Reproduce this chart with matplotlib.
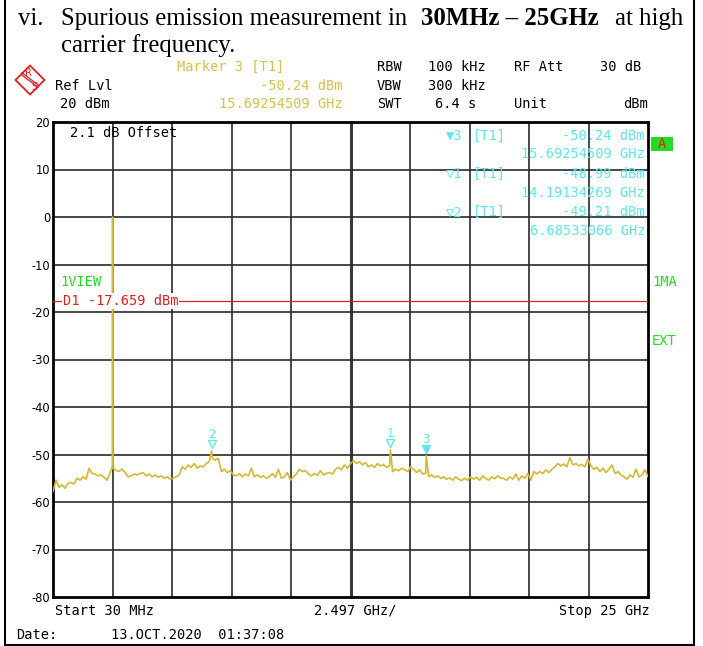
import numpy as np
import matplotlib.pyplot as plt
from matplotlib import transforms
from matplotlib.patches import Polygon, Rectangle
from matplotlib.lines import Line2D

W, H = 703, 646

# sweep settings
start_ghz = 0.03
stop_ghz = 25.0
div_ghz = 2.497
ref_lvl = 20
y_ticks = [20, 10, 0, -10, -20, -30, -40, -50, -60, -70, -80]

# noise floor of the trace (dBm), evenly spaced over the sweep
noise_dbm = [
    -57.8, -55.4, -56.9, -56.4, -57.1, -56.1, -55.9, -56.2, -55.0, -55.4,
    -54.7, -55.2, -52.9, -54.0, -54.1, -54.5, -54.3, -54.8, -55.4, -53.8,
    -52.9, -53.4, -53.5, -53.1, -53.8, -54.7, -54.5, -54.1, -54.3, -54.0,
    -53.8, -54.5, -54.1, -54.7, -54.3, -54.8, -54.5, -55.0, -54.7, -55.2,
    -55.0, -54.7, -54.3, -52.6, -53.1, -52.2, -52.7, -51.9, -52.9, -52.4,
    -52.6,
    -51.9, -51.5, -50.8, -51.2, -50.8, -53.6, -53.1, -53.8, -53.4, -54.3,
    -54.5, -54.0, -54.7, -54.1, -54.5, -52.9, -54.7, -54.3, -54.8, -54.5,
    -55.0, -54.7, -54.0, -54.8, -53.1, -55.0, -54.7, -53.8, -55.4, -54.7,
    -54.1, -53.1, -53.6, -53.4, -54.1, -54.5, -54.0, -54.4, -53.4, -54.3,
    -54.0, -53.8, -54.1, -53.1, -52.7, -53.2, -52.2, -52.9, -51.9,
    -51.3, -51.9, -51.5, -52.2, -51.7, -52.6, -52.2, -52.7, -51.9, -52.4,
    -52.1, -52.7, -52.4, -53.6, -53.1, -53.4, -52.9, -53.2, -53.6, -52.6,
    -53.1, -53.8, -53.2, -54.1, -54.0, -54.7, -54.3, -54.8, -54.5, -55.0,
    -54.7, -55.2, -54.9, -55.4, -54.7, -55.2, -55.5, -55.0, -55.4, -54.7,
    -55.2, -54.8, -55.4, -54.5, -55.0, -55.4, -54.7, -55.1, -54.5, -55.0,
    -55.0, -55.4, -54.7, -55.2, -54.1, -55.4, -54.5, -55.0, -54.0, -55.4,
    -53.6, -54.1, -53.6, -54.0, -53.2, -53.8, -53.1, -52.6, -51.9, -52.4,
    -52.0, -52.6, -50.6, -52.2, -51.9, -52.4, -52.1, -52.6, -51.0, -52.4,
    -53.1, -52.7, -53.6, -52.9, -53.8, -53.1, -52.2, -54.0, -53.6, -54.3,
    -54.7, -55.2, -54.3, -54.8, -53.1, -54.7, -54.3, -53.2, -54.7,
]

# discrete peaks: carrier (with its foot points) + marked spurs
peak_ghz = [2.522, 2.530, 2.538, 6.68533066, 14.19134269, 15.69254509]
peak_dbm = [-52.6, 0.0, -52.8, -49.21, -48.99, -50.24]

marker_ids = ["2", "1", "3"]
marker_ghz = [6.68533066, 14.19134269, 15.69254509]
marker_dbm = [-49.21, -48.99, -50.24]
marker_filled = [False, False, True]

display_line = -17.659

TRACE = "#d6b833"
CYAN = "#5ce8ec"
GOLD = "#d8c04a"
GREEN = "#22dd22"
RED = "#e02020"
MONO = "DejaVu Sans Mono"
SERIF = "Liberation Serif"
MSIZE = 9.8
TSIZE = 17.8


def fx(x):
    return x / W


def fy(y):
    return 1 - y / H


fig = plt.figure(figsize=(W / 100, H / 100), dpi=100)


def ptext(x, y, s, **kw):
    kw.setdefault("family", MONO)
    kw.setdefault("size", MSIZE)
    kw.setdefault("va", "center")
    return fig.text(fx(x), fy(y), s, **kw)


# title (document text above the screenshot)
ptext(18, 25, "vi.", family=SERIF, size=TSIZE, va="baseline")
ptext(61, 25, "Spurious emission measurement in", family=SERIF, size=TSIZE, va="baseline")
ptext(421, 25, "30MHz \u2013 25GHz", family=SERIF, size=TSIZE, va="baseline", weight="bold")
ptext(615, 25, "at high", family=SERIF, size=TSIZE, va="baseline")
ptext(61, 52, "carrier frequency.", family=SERIF, size=TSIZE, va="baseline")

# table cell frame
for xs, ys in [([5, 5], [0, 645]), ([694, 694], [0, 645]), ([5, 694], [645, 645])]:
    fig.add_artist(Line2D([fx(v) for v in xs], [fy(v) for v in ys], color="black", lw=1.5))

# R&S logo
cx, cy, r = 30, 80, 14.5
fig.add_artist(Polygon([(fx(cx), fy(cy - r)), (fx(cx + r), fy(cy)), (fx(cx), fy(cy + r)),
                        (fx(cx - r), fy(cy))], closed=True, fill=False, ec=RED, lw=1.3))
for off in (-1.2, 1.2):
    fig.add_artist(Line2D([fx(cx - 8), fx(cx + 8)], [fy(cy - 6 + off), fy(cy + 6 + off)],
                          color=RED, lw=0.9))
ptext(cx - 2, cy - 7.5, "R", family="DejaVu Sans", size=7, color=RED, ha="center")
ptext(cx + 4, cy + 7, "S", family="DejaVu Sans", size=7, color=RED, ha="center")

# header
ptext(55, 86, "Ref Lvl")
ptext(60, 104.5, "%d dBm" % ref_lvl)
ptext(177, 67, "Marker 3 [T1]", color=GOLD)
ptext(343, 86, "%.2f dBm" % marker_dbm[2], color=GOLD, ha="right")
ptext(343, 104.5, "%.8f GHz" % marker_ghz[2], color=GOLD, ha="right")
ptext(377, 67, "RBW")
ptext(377, 86, "VBW")
ptext(377, 104.5, "SWT")
ptext(428, 67, "100 kHz")
ptext(428, 86, "300 kHz")
ptext(435, 104.5, "6.4 s")
ptext(514, 67, "RF Att")
ptext(514, 104.5, "Unit")
ptext(641, 67, "30 dB", ha="right")
ptext(648, 104.5, "dBm", ha="right")

# screen
ax = fig.add_axes([fx(53), fy(597), (648 - 53) / W, (597 - 122) / H])
ax.set_xlim(start_ghz, stop_ghz)
ax.set_ylim(-80, 20)
grid_x = [start_ghz + k * div_ghz for k in range(1, 10)]
for k, gx in enumerate(grid_x):
    ax.axvline(gx, color="#2a2a2a" if k != 4 else "#3a3a3a", lw=1.2 if k != 4 else 2.2, zorder=1)
for gy in y_ticks[1:-1]:
    ax.axhline(gy, color="#2a2a2a", lw=1.2, zorder=1)
ax.set_xticks([])
ax.set_yticks(y_ticks)
ax.set_yticklabels([str(v) for v in y_ticks], family="DejaVu Sans", size=8.3)
ax.tick_params(axis="y", length=0, pad=2)
for sp in ax.spines.values():
    sp.set_linewidth(2)

freqs = np.linspace(start_ghz, stop_ghz, len(noise_dbm))
f_all = np.concatenate([freqs, peak_ghz])
l_all = np.concatenate([noise_dbm, peak_dbm])
order = np.argsort(f_all)
ax.plot(f_all[order], l_all[order], color=TRACE, lw=1.2, zorder=3)

# display line D1
ax.axhline(display_line, color=RED, lw=0.9, zorder=4)
ax.text(0.017, display_line, "D1 %.3f dBm" % display_line, color=RED, family=MONO, size=MSIZE,
        va="center", transform=transforms.blended_transform_factory(ax.transAxes, ax.transData),
        bbox=dict(fc="white", ec="none", pad=0.5), zorder=5)

# markers on the trace
for mid, mf, md, filled in zip(marker_ids, marker_ghz, marker_dbm, marker_filled):
    tri = transforms.offset_copy(ax.transData, fig=fig, x=0, y=4.5, units="points")
    ax.plot([mf], [md], marker="v", ms=6, mec=CYAN, mfc=CYAN if filled else "white",
            mew=1, transform=tri, zorder=6)
    ax.annotate(mid, (mf, md), xytext=(0, 11.5), textcoords="offset points", ha="center",
                va="center", color=CYAN, family="DejaVu Sans", size=8.5, zorder=6)

ax.text(0.029, 0.976, "2.1 dB Offset", transform=ax.transAxes, family=MONO, size=MSIZE,
        va="center")
ptext(60, 282, "1VIEW", color=GREEN)

# marker table
rows = [("\u25bc3", 2), ("\u25bd1", 1), ("\u25bd2", 0)]
for i, (tag, k) in enumerate(rows):
    y0 = 135.5 + i * 38.3
    ptext(462, y0, tag, color=CYAN, ha="right")
    ptext(473, y0, "[T1]", color=CYAN)
    ptext(645, y0, "%.2f dBm" % marker_dbm[k], color=CYAN, ha="right")
    ptext(645, y0 + 19, "%.8f GHz" % marker_ghz[k], color=CYAN, ha="right")

# side labels
fig.add_artist(Rectangle((fx(651), fy(150.5)), 22 / W, 13.5 / H, fc=GREEN, ec="none"))
ptext(662, 143.5, "A", color=RED, ha="center")
ptext(652, 282, "1MA", color=GREEN)
ptext(652, 341, "EXT", color=GREEN)

# footer
ptext(55, 611, "Start 30 MHz")
ptext(355, 611, "%.3f GHz/" % div_ghz, ha="center")
ptext(650, 611, "Stop 25 GHz", ha="right")
ptext(16, 635, "Date:")
ptext(111, 635, "13.OCT.2020  01:37:08")

fig.savefig("out.png", dpi=100)
